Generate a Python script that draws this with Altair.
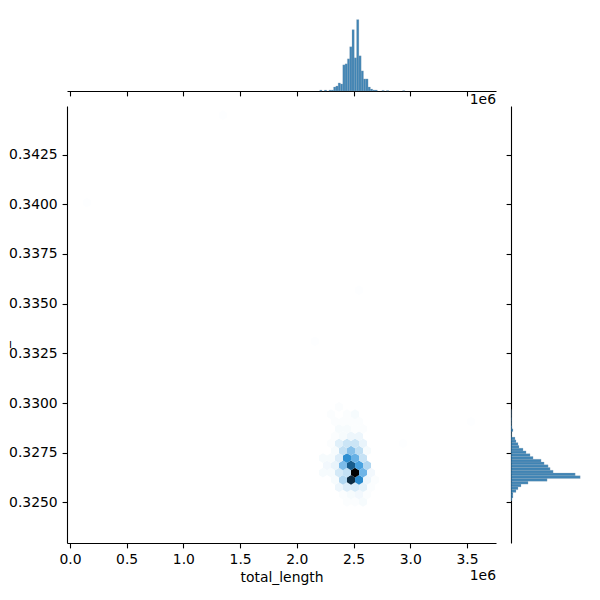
import colorsys
import altair as alt
import pandas as pd

X_DOMAIN = [-0.026, 3.756]
Y_DOMAIN = [0.32296, 0.34494]
x_ticks = [0.0, 0.5, 1.0, 1.5, 2.0, 2.5, 3.0, 3.5]
y_ticks = [0.325, 0.3275, 0.33, 0.3325, 0.335, 0.3375, 0.34, 0.3425]

# hexbin grid: half-column / row offsets from the densest cell, and counts
hex_half_col = [-2,0,2,
                -3,-1,1,3,
                -4,-2,0,2,4,
                -5,-3,-1,1,3,5,
                -8,-6,-4,-2,0,2,4,
                -7,-5,-3,-1,1,3,
                -8,-6,-4,-2,0,2,
                -5,-3,-1,1,3,
                -6,-4,-2,0,2,
                -5,-3,-1,1,
                -4,-2,0,2,
                -5,-3,-1,1,
                -6,-2,0,
                -4,
                -10,1,12,29,-67,-33]
hex_row = [4,4,4,
           3,3,3,3,
           2,2,2,2,2,
           1,1,1,1,1,1,
           0,0,0,0,0,0,0,
           -1,-1,-1,-1,-1,-1,
           -2,-2,-2,-2,-2,-2,
           -3,-3,-3,-3,-3,
           -4,-4,-4,-4,-4,
           -5,-5,-5,-5,
           -6,-6,-6,-6,
           -7,-7,-7,-7,
           -8,-8,-8,
           -9,
           -18,-25,-4,-7,-37,-49]
hex_count = [1,1,2,
             1,2,3,1,
             4,8,9,6,1,
             2,18,85,52,4,1,
             2,2,10,14,100,33,3,
             3,5,30,68,42,18,
             2,2,8,50,35,13,
             2,14,28,15,2,
             1,7,12,12,5,
             1,2,4,4,
             2,2,1,1,
             1,1,1,1,
             1,1,2,
             1,
             0.5,0.5,0.5,0.5,0.5,0.5]
HEX_X0, HEX_Y0 = 2.513, 0.32650
HEX_DX, HEX_DY = 0.0353, 0.000367

# top marginal: bin offset from tallest bin, bar height
top_bin = [-16,-14,-12,-11,-10,-9,-8,-7,-6,-5,-4,-3,-2,-1,0,1,2,3,4,5,6,7,8,11,13,20]
top_count = [1,1,1,1,4,5,8,7,26,27,32,44,61,33,71,35,20,12,12,4,2,1,1,0.6,0.5,0.4]
TOP_PEAK, TOP_W = 2.537, 0.0203

# right marginal: bin offset from longest bin, bar length
right_bin = [1,0,-1,-2,-3,-4,-5,-6,-7,-8,2,3,4,5,6,7,8,9,10,11,12,13,14,15,16,17,18,19,20,21,22,23,24]
right_count = [64,69,36,17,10,7,5,2,2,1,42,39,37,33,30,22,19,15,12,8,7,5,4,0.5,0.5,2,1,0.5,0.5,0.5,0.3,0.3,0.3]
RIGHT_PEAK, RIGHT_W = 0.32627, 0.000139

hex_df = pd.DataFrame({
    "x": [HEX_X0 + HEX_DX * h for h in hex_half_col],
    "y": [HEX_Y0 - HEX_DY * r for r in hex_row],
    "count": hex_count,
})
top_df = pd.DataFrame({
    "x": [TOP_PEAK + (b - 0.5) * TOP_W for b in top_bin],
    "x2": [TOP_PEAK + (b + 0.5) * TOP_W for b in top_bin],
    "c": top_count,
})
right_df = pd.DataFrame({
    "y": [RIGHT_PEAK + (b - 0.5) * RIGHT_W for b in right_bin],
    "y2": [RIGHT_PEAK + (b + 0.5) * RIGHT_W for b in right_bin],
    "c": right_count,
})

h, l, s = colorsys.rgb_to_hls(0x1f / 255, 0x77 / 255, 0xb4 / 255)
stops = [i / 11 for i in range(12)]
stop_colors = ["#%02x%02x%02x" % tuple(round(v * 255) for v in colorsys.hls_to_rgb(h, 1 - t, s)) for t in stops]

HEX_PATH = "M0,-1.22L1,-0.61L1,0.61L0,1.22L-1,0.61L-1,-0.61Z"
x_scale = alt.Scale(domain=X_DOMAIN, nice=False, zero=False)
y_scale = alt.Scale(domain=Y_DOMAIN, nice=False, zero=False)

hexes = alt.Chart(hex_df).mark_point(shape=HEX_PATH, filled=True, opacity=1, size=64).encode(
    x=alt.X("x:Q", scale=x_scale, axis=alt.Axis(values=x_ticks, format=".1f", title="total_length", grid=False, labelFlush=False)),
    y=alt.Y("y:Q", scale=y_scale, axis=alt.Axis(values=y_ticks, format=".4f", title="_", grid=False, titlePadding=-2, titleY=238)),
    color=alt.Color("count:Q", legend=None, scale=alt.Scale(domain=[t * 100 for t in stops], range=stop_colors, interpolate="rgb")),
)
label_df = pd.DataFrame({"t": ["1e6"]})
off_top = alt.Chart(label_df).mark_text(align="right", baseline="middle", fontSize=13.9, font="DejaVu Sans", color="black").encode(
    text="t:N", x=alt.value(429), y=alt.value(-6))
off_bottom = alt.Chart(label_df).mark_text(align="right", baseline="middle", fontSize=13.9, font="DejaVu Sans", color="black").encode(
    text="t:N", x=alt.value(429), y=alt.value(470))
main = alt.layer(hexes, off_top, off_bottom).properties(width=429, height=437)

BAR = dict(color="#1f6fa8", opacity=0.85, stroke="#8fa3b3", strokeWidth=0.25)
top = alt.Chart(top_df).mark_rect(**BAR).encode(
    x=alt.X("x:Q", scale=x_scale, axis=alt.Axis(values=x_ticks, labels=False, title=None, grid=False)),
    x2="x2:Q",
    y=alt.Y("c:Q", scale=alt.Scale(domain=[0, 74.6], nice=False), axis=None),
    y2=alt.datum(0),
).properties(width=429, height=75)

right = alt.Chart(right_df).mark_rect(**BAR).encode(
    y=alt.Y("y:Q", scale=y_scale, axis=alt.Axis(values=y_ticks, labels=False, title=None, grid=False)),
    y2="y2:Q",
    x=alt.X("c:Q", scale=alt.Scale(domain=[0, 72.8], nice=False), axis=None),
    x2=alt.datum(0),
).properties(width=73, height=437)

chart = alt.vconcat(
    top,
    alt.hconcat(main, right, spacing=15, bounds="flush"),
    spacing=15, bounds="flush",
).properties(padding={"left": -12, "top": 8, "right": 0, "bottom": 5}).configure_view(stroke=None).configure_axis(
    domainColor="black", domainWidth=1.1, tickColor="black", tickWidth=1.1, tickSize=4.9,
    labelColor="black", labelFont="DejaVu Sans", labelFontSize=13.9, labelPadding=4.9,
    titleColor="black", titleFont="DejaVu Sans", titleFontSize=13.9, titleFontWeight="normal",
)

chart.save("out.html", embed_options={"renderer": "svg", "actions": False})
